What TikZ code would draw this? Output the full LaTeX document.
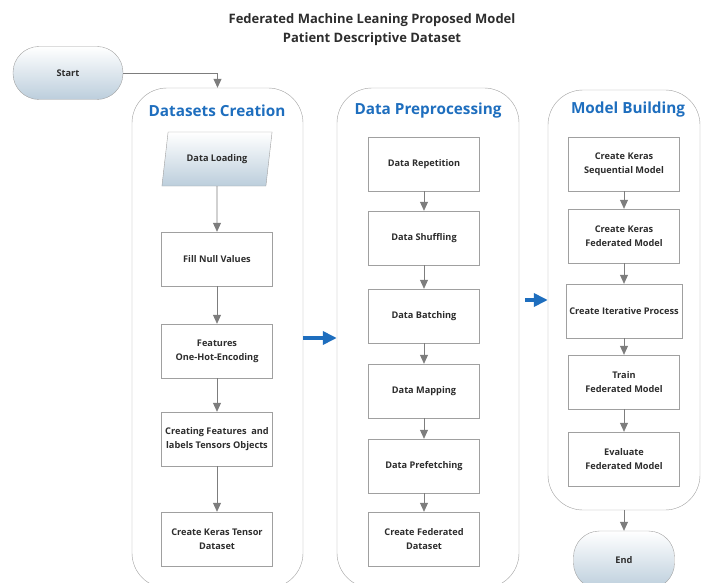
\documentclass[tikz,border=0pt]{standalone}
\usepackage{fontspec}
\setmainfont{Open Sans}
\usepackage{tikz}
\usetikzlibrary{arrows.meta}
\usetikzlibrary{shapes.geometric}

\definecolor{headblue}{RGB}{30,110,190}
\definecolor{linegray}{RGB}{160,160,160}
\definecolor{arrgray}{RGB}{125,125,125}
\definecolor{txtgray}{RGB}{45,45,45}
\definecolor{termblue}{RGB}{188,206,220}

\begin{document}
\begin{tikzpicture}[x=1pt,y=-1pt,
    box/.style={draw=linegray, fill=white, minimum width=111pt, minimum height=54pt, align=center, text=txtgray, font=\bfseries\fontsize{9.2}{14}\selectfont},
    stage/.style={draw=linegray, rounded corners=35pt, inner sep=0pt},
    head/.style={text=headblue, font=\bfseries\fontsize{15.3}{17}\selectfont},
    term/.style={draw=linegray, rounded corners=26pt, top color=white, bottom color=termblue, text=txtgray, font=\bfseries\fontsize{9.2}{14}\selectfont},
    flow/.style={draw=arrgray, line width=0.8pt, -{Triangle[width=8pt,length=9pt]}},
    blueflow/.style={draw=headblue, line width=3.5pt, -{Triangle[width=13pt,length=14pt]}}]
    \useasboundingbox (0,0) rectangle (701,583);
    \node[text=txtgray, align=center, font=\bfseries\fontsize{13}{19}\selectfont] (title) at (372,30) {Federated Machine Leaning Proposed Model\\Patient Descriptive Dataset};
    \node[term, minimum width=110pt, minimum height=53pt] (start) at (68,73) {Start};
    % the three stages
    \node[stage, minimum width=171pt, minimum height=500pt] (dsc) at (217.5,338) {};
    \node[stage, minimum width=182pt, minimum height=500pt] (pre) at (428,338) {};
    \node[stage, minimum width=152pt, minimum height=420pt] (mb) at (624,300) {};
    \node[head] (dsch) at (217,111) {Datasets Creation};
    \node[head] (preh) at (428,111) {Data Preprocessing};
    \node[head] (mbh) at (628,110) {Model Building};
    % datasets creation
    \node[box, trapezium, trapezium left angle=75, trapezium right angle=105, trapezium stretches=true, top color=white, bottom color=termblue] (load) at (217,159) {Data Loading};
    \node[box] (fill) at (217,259) {Fill Null Values};
    \node[box] (ohe) at (217,351) {Features\\One-Hot-Encoding};
    \node[box] (tens) at (217,439) {Creating Features\ \ and\\labels Tensors Objects};
    \node[box] (kds) at (217,539) {Create Keras Tensor\\Dataset};
    % data preprocessing
    \node[box] (rep) at (424,164) {Data Repetition};
    \node[box] (shuf) at (424,238) {Data Shuffling};
    \node[box] (batch) at (424,316) {Data Batching};
    \node[box] (map) at (424,391) {Data Mapping};
    \node[box] (pref) at (424,466) {Data Prefetching};
    \node[box] (fds) at (424,539) {Create Federated\\Dataset};
    % model building
    \node[box] (seq) at (624,164) {Create Keras\\Sequential Model};
    \node[box] (fedm) at (624,236) {Create Keras\\Federated Model};
    \node[box] (iter) at (624,311) {Create Iterative Process};
    \node[box] (train) at (624,382) {Train\\Federated Model};
    \node[box] (eval) at (624,459) {Evaluate\\Federated Model};
    \node[term, minimum width=101pt, minimum height=58pt] (endn) at (624,560) {End};
    % connectors
    \draw[flow] (start.east) -| (dsc.north);
    \draw[flow] (load) -- (fill);
    \draw[flow] (fill) -- (ohe);
    \draw[flow] (ohe) -- (tens);
    \draw[flow] (tens) -- (kds);
    \draw[flow] (rep) -- (shuf);
    \draw[flow] (shuf) -- (batch);
    \draw[flow] (batch) -- (map);
    \draw[flow] (map) -- (pref);
    \draw[flow] (pref) -- (fds);
    \draw[flow] (seq) -- (fedm);
    \draw[flow] (fedm) -- (iter);
    \draw[flow] (iter) -- (train);
    \draw[flow] (train) -- (eval);
    \draw[flow] (mb) -- (endn);
    \draw[blueflow] (dsc) -- (pre);
    \draw[blueflow] ([xshift=6pt]pre.east |- mb.west) -- (mb.west);
\end{tikzpicture}
\end{document}
